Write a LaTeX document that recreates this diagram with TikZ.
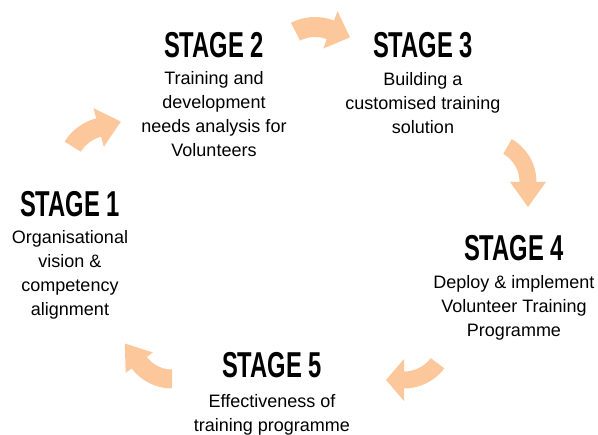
\documentclass[tikz,border=0pt]{standalone}
\usepackage{fontspec}
\setmainfont{Liberation Sans}
\newfontfamily\headfont[FakeStretch=0.66]{Liberation Sans}
\usetikzlibrary{calc}
\definecolor{peach}{RGB}{252,200,155}
\tikzset{
  stagehead/.style={inner sep=0pt, anchor=center, font=\headfont\bfseries\fontsize{36}{36}\selectfont},
  stagebody/.style={inner sep=0pt, anchor=north, align=center, font=\fontsize{18}{24}\selectfont},
  cyclearrow/.style={fill=peach, draw=none}
}
% centre x, centre y, radius, start angle, end angle, half band width, half head width, head length
\newcommand{\carrow}[8]{%
  \fill[cyclearrow] ($(#1,#2)+(#4:#3+#6)$) arc[start angle=#4, end angle=#5, radius=#3+#6]
    -- ($(#1,#2)+(#5:#3+#7)$)
    -- ($(#1,#2)+(#5:#3)+(#5+90:#8)$)
    -- ($(#1,#2)+(#5:#3-#7)$)
    -- ($(#1,#2)+(#5:#3-#6)$)
    arc[start angle=#5, end angle=#4, radius=#3-#6] -- cycle;}
\newcommand{\fs}{\rule{0pt}{14pt}}
\begin{document}
\begin{tikzpicture}[x=1pt, y=-1pt]
\useasboundingbox (0,0) rectangle (598,435);
% arrows
\carrow{110}{170}{44}{212}{255}{9.5}{20}{23}
\carrow{315}{70}{43}{243}{291}{10}{20}{21}
\carrow{487}{182}{41}{300}{360}{8.5}{18}{25}
\carrow{404}{338}{42}{37}{90}{8.5}{21}{18}
\carrow{172}{338}{41}{90}{143}{9.5}{17}{24}
% stages
\node[stagehead] (s1) at (70,204) {STAGE 1};
\node[stagebody] (d1) at (70,229) {\fs Organisational\\vision \&\\competency\\alignment};
\node[stagehead] (s2) at (214,45) {STAGE 2};
\node[stagebody] (d2) at (214,70) {\fs Training and\\development\\needs analysis for\\Volunteers};
\node[stagehead] (s3) at (423,45) {STAGE 3};
\node[stagebody] (d3) at (423,71) {\fs Building a\\customised training\\solution};
\node[stagehead] (s4) at (514,248) {STAGE 4};
\node[stagebody] (d4) at (514,274) {\fs Deploy \& implement\\Volunteer Training\\Programme};
\node[stagehead] (s5) at (272,365) {STAGE 5};
\node[stagebody] (d5) at (272,393) {\fs Effectiveness of\\training programme};
\end{tikzpicture}
\end{document}
